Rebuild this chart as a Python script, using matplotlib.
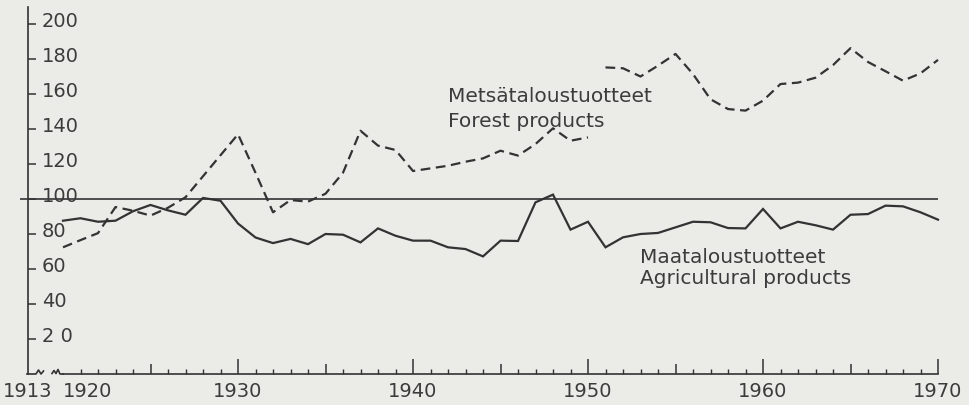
import numpy as np
import matplotlib
matplotlib.use("Agg")
import matplotlib.pyplot as plt

# ---- data (index) ----
years = list(range(1920, 1971))
agri = [87.6, 89, 87, 87.6, 93, 96.6, 93.5, 91, 100.6, 99,
        86, 78, 74.8, 77.2, 74.2, 80, 79.6, 75.2, 83.2, 79,
        76.2, 76.2, 72.4, 71.4, 67.2, 76.2, 76, 98.1, 102.5, 82.5,
        87, 72.4, 78.1, 80, 80.6, 83.8, 87, 86.7, 83.4, 83.2,
        94.3, 83.2, 87, 85, 82.5, 91, 91.4, 96.2, 95.8, 92.4,
        88.2]
forest_old_years = list(range(1920, 1951))
forest_old = [72.4, 76.5, 80.5, 95.4, 93.3, 90.5, 95, 101, 113, 125,
              137, 115, 92.4, 99.4, 98.5, 103, 115, 139, 130.5, 128,
              116, 117.5, 119, 121.3, 123.2, 127.6, 124.8, 131.4, 140.4, 133.3,
              135.2]
forest_new_years = list(range(1951, 1971))
forest_new = [175.2, 174.7, 170, 176.2, 182.9, 171.4, 157, 151.4, 150.5, 156.2,
              165.7, 166.5, 169.3, 176.5, 186.2, 178.3, 173, 167.6, 171.8, 179.5]
ytick_vals = [20, 40, 60, 80, 100, 120, 140, 160, 180, 200]
ytick_labels = ["2 0", "40", "60", "80", "100", "120", "140", "160", "180", "200"]
decades = [1930, 1940, 1950, 1960, 1970]
label_fi_forest = "Metsätaloustuotteet"
label_en_forest = "Forest products"
label_fi_agri = "Maataloustuotteet"
label_en_agri = "Agricultural products"

# ---- styling ----
BG = "#ebebe8"
INK = "#333333"
TXT = "#3c3c3c"
plt.rcParams["font.family"] = ["DejaVu Sans"]
plt.rcParams["lines.scale_dashes"] = False

fig = plt.figure(figsize=(9.69, 4.06), dpi=100, facecolor=BG)
ax = fig.add_axes([0, 0, 1, 1], facecolor=BG)

# pixel mapping: 1930 -> x=238, 17.5 px / year ; value 0 -> y=375, 1.75 px / unit
PX_YEAR = 17.5
PX_VAL = 1.75
ax.set_xlim(1930 - 238 / PX_YEAR, 1930 + (969 - 238) / PX_YEAR)
ax.set_ylim(-(406 - 375) / PX_VAL, 375 / PX_VAL)

AX_X0 = 1918  # where the (compressed) 1913 origin sits


def px2yr(px):
    return 1930 + (px - 238) / PX_YEAR


def up(px):
    return px / PX_VAL


# reference line at 100
ax.plot([AX_X0 - 8 / PX_YEAR, 1970], [100, 100], color=INK, lw=1.2, solid_capstyle="butt")

# data lines
ax.plot(years, agri, color=INK, lw=1.6, solid_joinstyle="miter")
ax.plot(forest_old_years, forest_old, color=INK, lw=1.6, dashes=(7, 4))
ax.plot(forest_new_years, forest_new, color=INK, lw=1.6, dashes=(7, 4))

# spines
for s in ["top", "right"]:
    ax.spines[s].set_visible(False)
ax.spines["left"].set_position(("data", AX_X0))
ax.spines["left"].set_bounds(0, 210)
ax.spines["bottom"].set_position(("data", 0))
ax.spines["bottom"].set_bounds(1920, 1970)
for s in ["left", "bottom"]:
    ax.spines[s].set_color(INK)
    ax.spines[s].set_linewidth(1.2)

# axis break pieces between origin and 1920
b1x = [px2yr(p) for p in [27, 36, 38.5, 41, 43.5]]
b1y = [0, 0, up(4), 0, up(3)]
b2x = [px2yr(p) for p in [52, 54, 56, 58, 60, 63]]
b2y = [up(0.5), up(3.5), up(0.5), up(4.5), 0, 0]
ax.plot(b1x, b1y, color=INK, lw=1.2)
ax.plot(b2x, b2y, color=INK, lw=1.2)

# y ticks (inside, to the right), labels drawn as text above the tick
ax.set_yticks(ytick_vals)
ax.tick_params(axis="y", direction="in", length=6, width=1.1, color=INK, labelleft=False)
for v, lab in zip(ytick_vals, ytick_labels):
    ax.text(px2yr(42), v - 1.0, lab, ha="left", va="baseline", fontsize=14, color=TXT)

# x ticks: every 5 years major, yearly minor
five = list(range(1925, 1971, 5))
ax.set_xticks(five)
ax.set_xticks(range(1921, 1971), minor=True)
ax.set_xticklabels([str(y) if y in decades else "" for y in five], fontsize=14, color=TXT)
ax.tick_params(axis="x", which="major", direction="in", length=7, width=1.1, color=INK, pad=5)
ax.tick_params(axis="x", which="minor", direction="in", length=3.6, width=1.0, color=INK)
for t, y in zip(ax.xaxis.get_major_ticks(), five):
    if y in decades:
        t.tick1line.set_markersize(11)
ax.text(AX_X0, -(382 - 375) / PX_VAL, "1913", ha="center", va="top", fontsize=14, color=TXT)
ax.text(1920, -(382 - 375) / PX_VAL, "1920", ha="left", va="top", fontsize=14, color=TXT)

# series labels
ax.text(px2yr(448), (375 - 102) / PX_VAL, label_fi_forest, ha="left", va="baseline",
        fontsize=14.5, color=TXT)
ax.text(px2yr(448), (375 - 127) / PX_VAL, label_en_forest, ha="left", va="baseline",
        fontsize=14.5, color=TXT)
ax.text(px2yr(640), (375 - 263) / PX_VAL, label_fi_agri, ha="left", va="baseline",
        fontsize=14.5, color=TXT)
ax.text(px2yr(640), (375 - 284) / PX_VAL, label_en_agri, ha="left", va="baseline",
        fontsize=14.5, color=TXT)

fig.savefig("out.png", dpi=100, facecolor=BG)
